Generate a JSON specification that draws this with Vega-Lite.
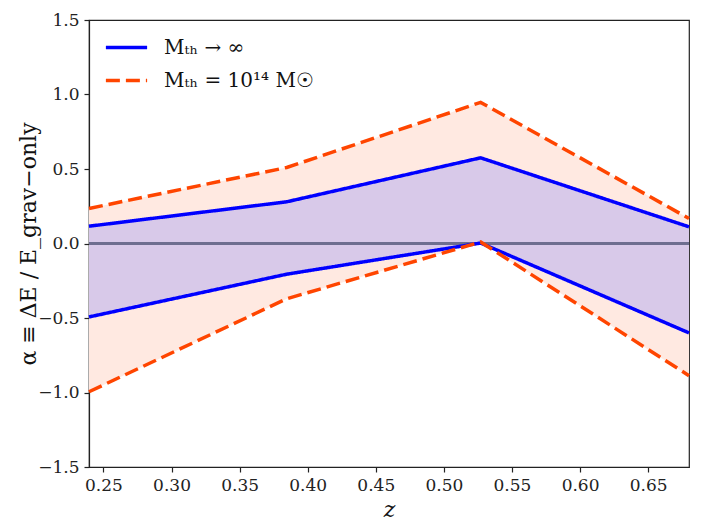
{
  "$schema": "https://vega.github.io/schema/vega-lite/v6.json",
  "width": 600,
  "height": 447,
  "autosize": {"type": "none"},
  "padding": {"left": 89, "top": 20, "right": 17, "bottom": 63},
  "background": "white",
  "data": {
    "values": [
      {"series": "Mₜₕ → ∞", "z": 0.2394, "lo": -0.493, "hi": 0.116},
      {"series": "Mₜₕ → ∞", "z": 0.3846, "lo": -0.206, "hi": 0.28},
      {"series": "Mₜₕ → ∞", "z": 0.527, "lo": 0.003, "hi": 0.575},
      {"series": "Mₜₕ → ∞", "z": 0.68, "lo": -0.6, "hi": 0.112},
      {"series": "Mₜₕ = 10¹⁴ M☉", "z": 0.2394, "lo": -0.995, "hi": 0.235},
      {"series": "Mₜₕ = 10¹⁴ M☉", "z": 0.3846, "lo": -0.371, "hi": 0.51},
      {"series": "Mₜₕ = 10¹⁴ M☉", "z": 0.527, "lo": 0.01, "hi": 0.947},
      {"series": "Mₜₕ = 10¹⁴ M☉", "z": 0.68, "lo": -0.887, "hi": 0.168}
    ]
  },
  "encoding": {
    "x": {
      "field": "z",
      "type": "quantitative",
      "scale": {"domain": [0.2394, 0.68], "nice": false, "zero": false},
      "axis": {
        "title": "z",
        "values": [0.25, 0.3, 0.35, 0.4, 0.45, 0.5, 0.55, 0.6, 0.65],
        "format": ".2f",
        "titleFontStyle": "italic",
        "titleFontWeight": "normal",
        "titleFontSize": 22,
        "titlePadding": 6
      }
    }
  },
  "layer": [
    {
      "transform": [{"filter": "datum.series == 'Mₜₕ = 10¹⁴ M☉'"}],
      "mark": {"type": "area", "color": "#ffe9e1", "opacity": 1},
      "encoding": {
        "y": {"field": "lo", "type": "quantitative"},
        "y2": {"field": "hi"}
      }
    },
    {
      "transform": [{"filter": "datum.series == 'Mₜₕ → ∞'"}],
      "mark": {"type": "area", "color": "#d8c9e9", "opacity": 1},
      "encoding": {
        "y": {"field": "lo", "type": "quantitative"},
        "y2": {"field": "hi"}
      }
    },
    {
      "data": {"values": [{"zero": 0}]},
      "mark": {"type": "rule", "color": "#6e6e90", "strokeWidth": 3},
      "encoding": {
        "x": {"value": 0},
        "x2": {"value": 600},
        "y": {"field": "zero", "type": "quantitative"}
      }
    },
    {
      "mark": {"type": "line", "strokeWidth": 3.5},
      "encoding": {
        "y": {"field": "lo", "type": "quantitative"},
        "color": {"field": "series", "type": "nominal"},
        "strokeDash": {"field": "series", "type": "nominal"}
      }
    },
    {
      "mark": {"type": "line", "strokeWidth": 3.5},
      "encoding": {
        "y": {
          "field": "hi",
          "type": "quantitative",
          "scale": {"domain": [-1.5, 1.5], "nice": false},
          "axis": {
            "title": "α ≡  ΔE / E_grav−only",
            "values": [-1.5, -1, -0.5, 0, 0.5, 1, 1.5],
            "format": ".1f",
            "titleFontSize": 22,
            "titleFontWeight": "normal",
            "titlePadding": -3
          }
        },
        "color": {
          "field": "series",
          "type": "nominal",
          "scale": {
            "domain": ["Mₜₕ → ∞", "Mₜₕ = 10¹⁴ M☉"],
            "range": ["#0000ff", "#ff4500"]
          },
          "legend": {
            "title": null,
            "orient": "none",
            "legendX": 15,
            "legendY": 5,
            "symbolType": "stroke",
            "symbolSize": 1700,
            "symbolStrokeWidth": 3.5,
            "labelFontSize": 20,
            "labelFont": "DejaVu Serif",
            "labelColor": "#111",
            "rowPadding": -13,
            "labelOffset": 15
          }
        },
        "strokeDash": {
          "field": "series",
          "type": "nominal",
          "scale": {
            "domain": ["Mₜₕ → ∞", "Mₜₕ = 10¹⁴ M☉"],
            "range": [[1, 0], [14, 6]]
          },
          "legend": {
            "title": null,
            "orient": "none",
            "legendX": 15,
            "legendY": 5,
            "symbolType": "stroke",
            "symbolSize": 1700,
            "symbolStrokeWidth": 3.5,
            "labelFontSize": 20,
            "labelFont": "DejaVu Serif",
            "labelColor": "#111",
            "rowPadding": -13,
            "labelOffset": 15
          }
        }
      }
    }
  ],
  "config": {
    "font": "DejaVu Serif",
    "view": {"stroke": "#222", "strokeWidth": 1.2},
    "axis": {
      "grid": false,
      "domainColor": "#222",
      "domainWidth": 1.2,
      "tickColor": "#222",
      "tickSize": 5,
      "tickWidth": 1.2,
      "labelFontSize": 17,
      "labelColor": "#222",
      "labelPadding": 5,
      "titleColor": "#111",
      "titleFont": "DejaVu Serif",
      "labelFont": "DejaVu Serif"
    }
  }
}
